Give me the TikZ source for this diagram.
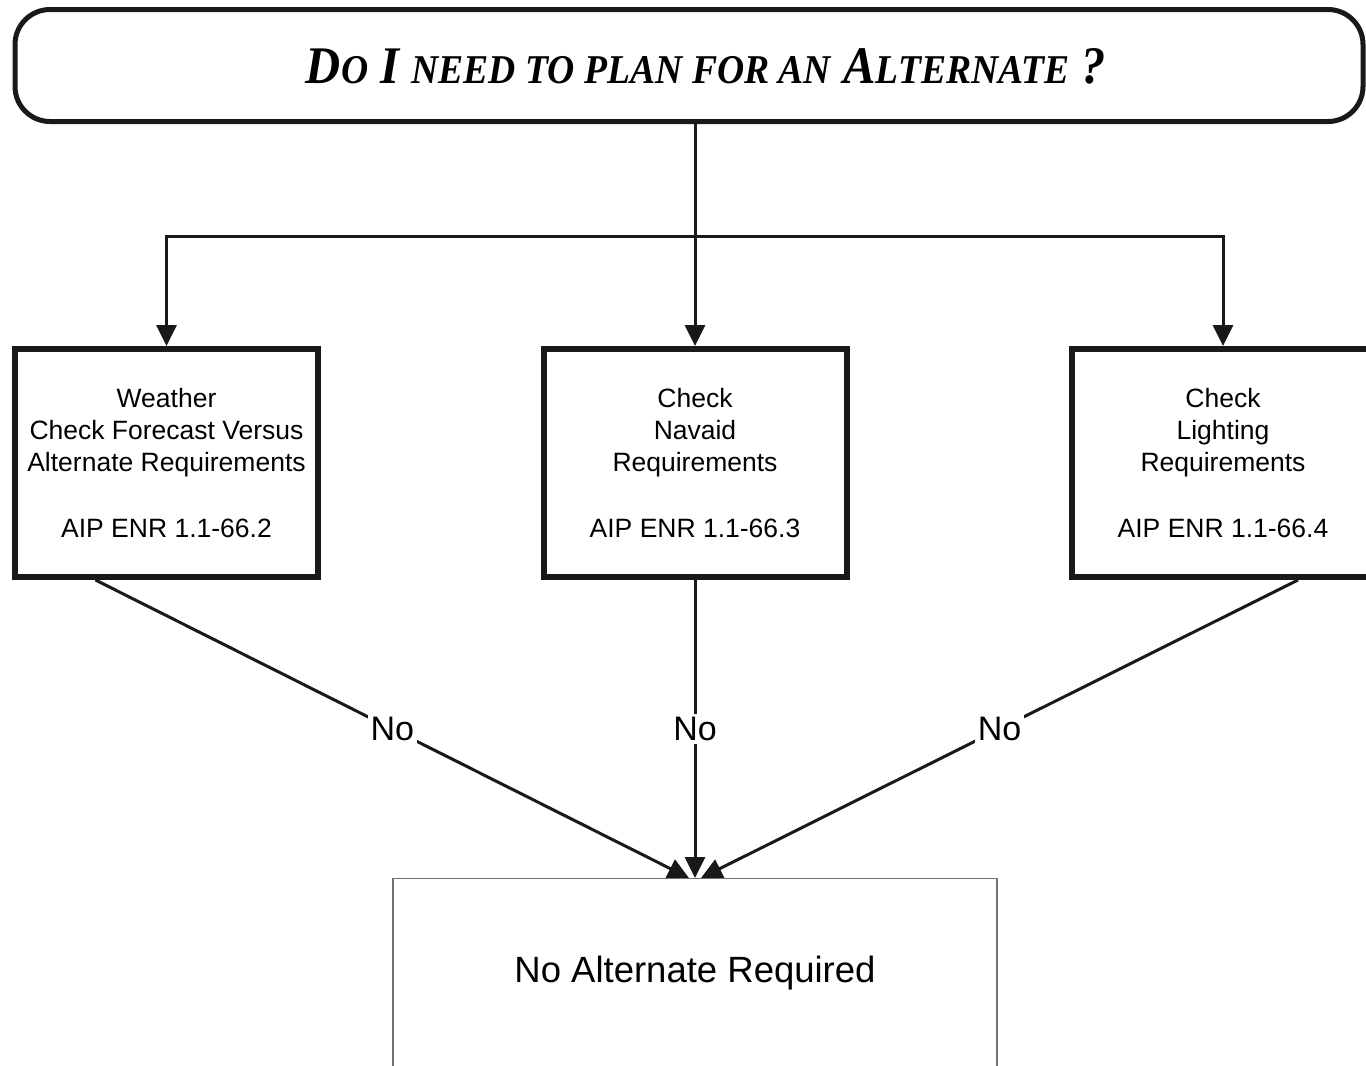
\documentclass[tikz,border=0pt]{standalone}
\usepackage{graphicx}
\usepackage{fontspec}
\setmainfont{Liberation Sans}
\newfontfamily\titlefont{Liberation Serif}
\usetikzlibrary{arrows.meta,calc}

% lower-case part of the title, set as small capitals
\newcommand\lowcaps[1]{{\fontsize{41}{41}\selectfont #1}}

\begin{document}
\begin{tikzpicture}[x=1pt,y=-1pt,
    titlebox/.style={draw=black!90, line width=5pt, rounded corners=35pt,
      minimum width=1348pt, minimum height=112pt, inner sep=0pt},
    checkbox/.style={draw=black!90, line width=6pt, fill=white,
      minimum width=303pt, minimum height=228pt, align=center,
      font=\fontsize{26.5}{32}\selectfont, inner sep=0pt},
    endbox/.style={draw=black!55, line width=1.3pt, fill=white,
      minimum width=604pt, minimum height=230pt, inner sep=0pt},
    link/.style={draw=black!90, line width=3pt},
    arrowlink/.style={link, -{Triangle[length=21pt,width=20pt]}},
    nolabel/.style={fill=white, inner sep=3pt, font=\fontsize{34}{34}\selectfont}]

  \useasboundingbox (0,0) rectangle (1366,1066);

  % question box
  \node[titlebox] (title) at (689,65.5) {};
  \node[anchor=base] (titletext) at (706,83)
    {\resizebox{800pt}{35pt}{\titlefont\bfseries\itshape\fontsize{53}{53}\selectfont
      D\lowcaps{O} I \lowcaps{NEED TO PLAN FOR AN} A\lowcaps{LTERNATE} ?}};

  % the three checks
  \node[checkbox] (w) at (166.5,463)
    {Weather\\Check Forecast Versus\\Alternate Requirements\\[34pt]AIP ENR 1.1-66.2};
  \node[checkbox] (n) at (695,463)
    {Check\\Navaid\\Requirements\\[34pt]AIP ENR 1.1-66.3};
  \node[checkbox] (l) at (1223,463)
    {Check\\Lighting\\Requirements\\[34pt]AIP ENR 1.1-66.4};

  % outcome box
  \node[endbox, anchor=north] (bot) at (695,878) {};
  \node (bottext) at (695,973) {\fontsize{36.5}{36.5}\selectfont No Alternate Required};

  % branching from the question
  \coordinate (split) at (695,236);
  \draw[arrowlink] (n.north |- title.south) -- (n.north);
  \draw[arrowlink] (split) -| (w.north);
  \draw[arrowlink] (split) -| (l.north);

  % converging "No" branches
  \coordinate (wout) at ($(w.south)+(-71,0)$);
  \coordinate (lout) at ($(l.south)+(75,0)$);
  \coordinate (win) at ($(bot.north)+(-6,0)$);
  \coordinate (lin) at ($(bot.north)+(6,0)$);
  \draw[arrowlink] (wout) -- node[nolabel] (no1) {No} (win);
  \draw[arrowlink] (n.south) -- node[nolabel] (no2) {No} (bot.north);
  \draw[arrowlink] (lout) -- node[nolabel] (no3) {No} (lin);
\end{tikzpicture}
\end{document}
